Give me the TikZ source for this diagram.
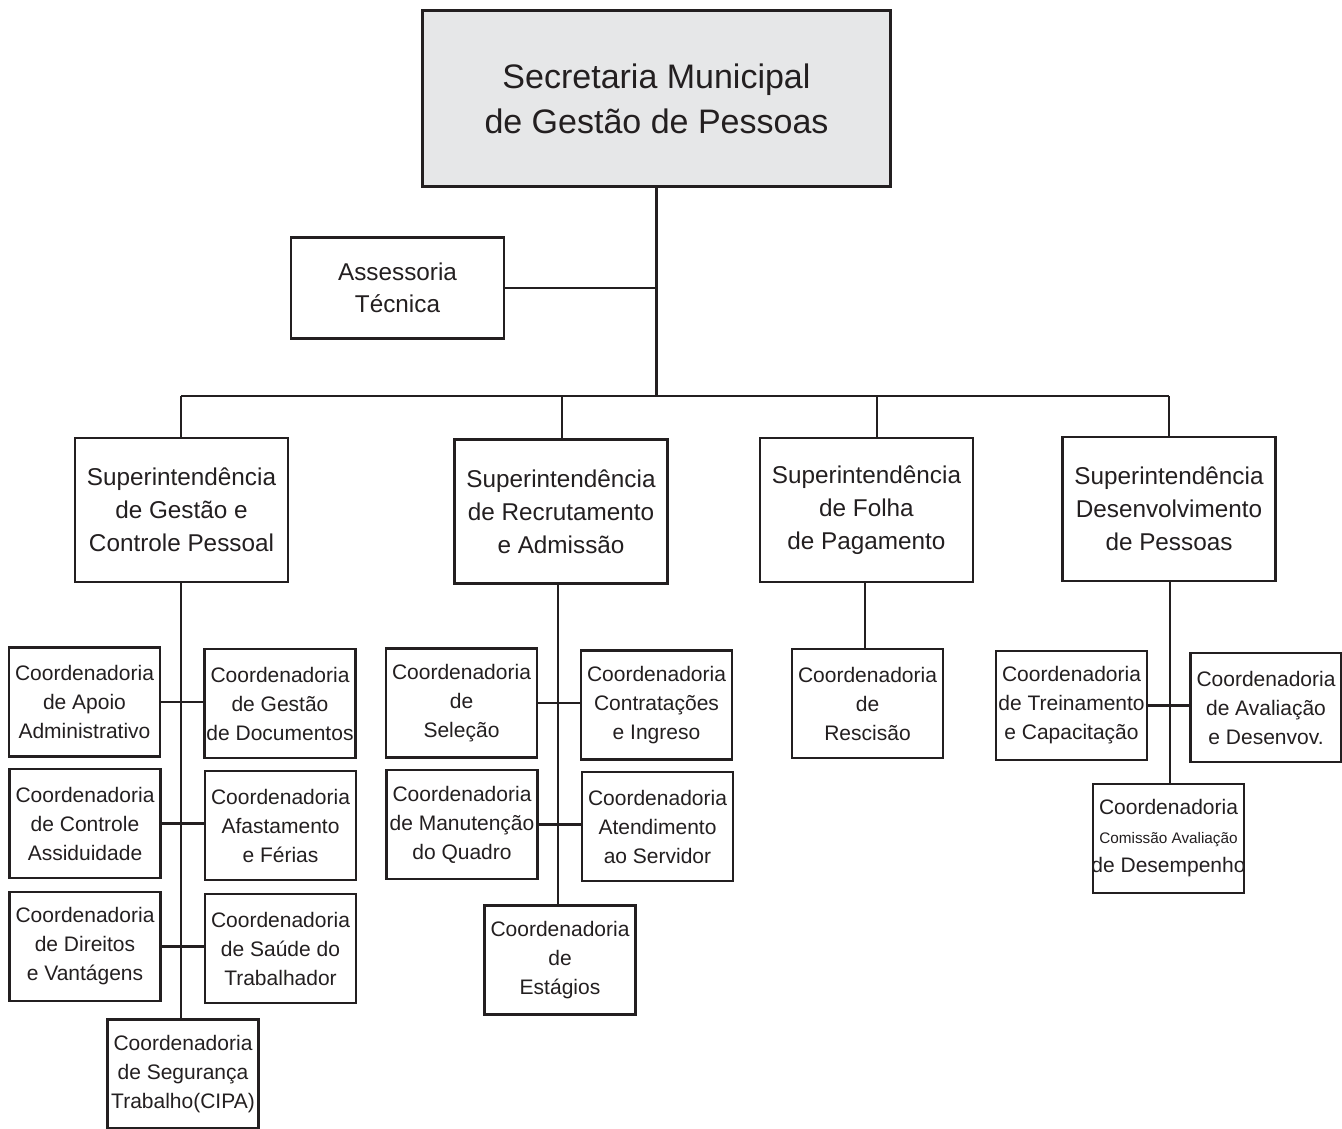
\documentclass[tikz,border=0pt]{standalone}
\usepackage{fontspec}
\setmainfont{Liberation Sans}
\definecolor{ink}{HTML}{231F20}
\definecolor{topfill}{HTML}{E6E7E8}
\begin{document}
\begin{tikzpicture}[x=1pt,y=-1pt,
  every node/.style={text=ink},
  link/.style={draw=ink,line width=2.6pt},
  buslink/.style={draw=ink,line width=2.2pt},
  topbox/.style={draw=ink,line width=2.2pt,fill=topfill,inner sep=0pt,minimum width=468,minimum height=176,align=center,font=\fontsize{34}{45}\selectfont},
  assbox/.style={draw=ink,line width=2.2pt,fill=white,inner sep=0pt,minimum width=213,minimum height=101,align=center,font=\fontsize{24.3}{32}\selectfont},
  supbox/.style={draw=ink,line width=2.6pt,fill=white,inner sep=0pt,minimum width=213,minimum height=144,align=center,font=\fontsize{24.3}{33}\selectfont},
  cobox/.style={draw=ink,line width=2.6pt,fill=white,inner sep=0pt,minimum width=151,minimum height=109,align=center,font=\fontsize{21}{29}\selectfont}]
\useasboundingbox[fill=white] (0,0) rectangle (1342,1129);

% top
\node[topbox] (top) at (656.5,98.5) {Secretaria Municipal\\de Gestão de Pessoas};
\node[assbox] (ass) at (397.5,288) {Assessoria\\Técnica};

% superintendencias
\node[supbox] (s1) at (181.5,510) {Superintendência\\de Gestão e\\Controle Pessoal};
\node[supbox] (s2) at (561,511.5) {Superintendência\\de Recrutamento\\e Admissão};
\node[supbox] (s3) at (866.5,510) {Superintendência\\de Folha\\de Pagamento};
\node[supbox] (s4) at (1169,509) {Superintendência\\Desenvolvimento\\de Pessoas};

% group 1
\node[cobox] (a1) at (84.5,702) {Coordenadoria\\de Apoio\\Administrativo};
\node[cobox] (a2) at (280,703.5) {Coordenadoria\\de Gestão\\de Documentos};
\node[cobox] (c1a) at (85,823.5) {Coordenadoria\\de Controle\\Assiduidade};
\node[cobox] (c1b) at (280.5,825.5) {Coordenadoria\\Afastamento\\e Férias};
\node[cobox] (c2a) at (85,946.5) {Coordenadoria\\de Direitos\\e Vantágens};
\node[cobox] (c2b) at (280.5,948.5) {Coordenadoria\\de Saúde do\\Trabalhador};
\node[cobox] (d1) at (183,1074) {Coordenadoria\\de Segurança\\Trabalho(CIPA)};

% group 2
\node[cobox] (e1) at (461.5,703) {Coordenadoria\\de\\Seleção};
\node[cobox] (e2) at (656.5,705) {Coordenadoria\\Contratações\\e Ingreso};
\node[cobox] (f1) at (462,824.5) {Coordenadoria\\\makebox[151pt][c]{de Manutenção}\\do Quadro};
\node[cobox] (f2) at (657.5,826.5) {Coordenadoria\\Atendimento\\ao Servidor};
\node[cobox] (g1) at (560,960) {Coordenadoria\\de\\Estágios};

% group 3
\node[cobox] (h1) at (867.5,703.5) {Coordenadoria\\de\\Rescisão};

% group 4
\node[cobox] (i1) at (1071.5,705.5) {Coordenadoria\\\makebox[151pt][c]{de Treinamento}\\e Capacitação};
\node[cobox] (i2) at (1266,707.5) {Coordenadoria\\de Avaliação\\e Desenvov.};
\node[cobox] (j1) at (1168.5,838.5) {Coordenadoria\\{\fontsize{15.3}{22}\selectfont Comissão Avaliação}\\\makebox[151pt][c]{de Desempenho}};

% bus coordinates
\coordinate (bus) at (656.5,396);
\coordinate (b1) at (181,396);
\coordinate (b2) at (562,396);
\coordinate (b3) at (877,396);
\coordinate (b4) at (1169,396);
\coordinate (t1) at (181,582);
\coordinate (t2) at (558,582);
\coordinate (t3) at (865,582);
\coordinate (t4) at (1170,582);

\draw[buslink] (top.south) -- (bus);
\draw[buslink] (ass.east) -- (ass.east -| top.south);
\draw[buslink] (b1) -- (b4);
\draw[buslink] (b1) -- (b1 |- s1.north);
\draw[buslink] (b2) -- (b2 |- s2.north);
\draw[buslink] (b3) -- (b3 |- s3.north);
\draw[buslink] (b4) -- (b4 |- s4.north);

\draw[link] (t1) -- (t1 |- d1.north);
\draw[link] (a1.east) -- (a2.west |- a1.east);
\draw[link] (c1a.east) -- (c1b.west |- c1a.east);
\draw[link] (c2a.east) -- (c2b.west |- c2a.east);

\draw[link] (t2) -- (t2 |- g1.north);
\draw[link] (e1.east) -- (e2.west |- e1.east);
\draw[link] (f1.east) -- (f2.west |- f1.east);

\draw[link] (t3) -- (t3 |- h1.north);

\draw[link] (t4) -- (t4 |- j1.north);
\draw[link] (i1.east) -- (i2.west |- i1.east);
\end{tikzpicture}
\end{document}
